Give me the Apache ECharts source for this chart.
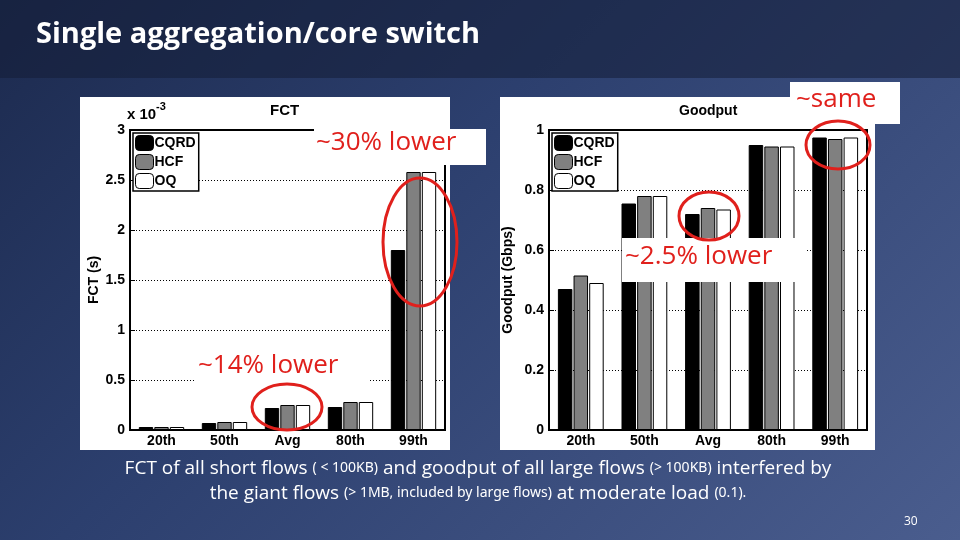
<!DOCTYPE html>
<html><head><meta charset="utf-8">
<script src="https://cdn.jsdelivr.net/npm/echarts@6/dist/echarts.min.js"></script>
<style>
html,body{margin:0;padding:0;}
#c{width:960px;height:540px;background:linear-gradient(135deg,#1c2a4e 0%,#2c3f6e 40%,#4a5d8e 100%);}
</style></head><body><div id="c"></div>
<script>
const categories = ['20th','50th','Avg','80th','99th'];
const seriesNames = ['CQRD','HCF','OQ'];
const fctCQRD = [0.03,0.07,0.22,0.23,1.80];
const fctHCF  = [0.03,0.08,0.25,0.28,2.58];
const fctOQ   = [0.03,0.08,0.25,0.28,2.58];
const gpCQRD = [0.47,0.755,0.72,0.95,0.975];
const gpHCF  = [0.515,0.78,0.74,0.945,0.97];
const gpOQ   = [0.49,0.78,0.735,0.945,0.975];
const fctTicks = [0,0.5,1,1.5,2,2.5,3];
const gpTicks = [0,0.2,0.4,0.6,0.8,1];

const colors = ['#000000','#808080','#ffffff'];
const chart = echarts.init(document.getElementById('c'));
const F = 'Liberation Sans, Arial, sans-serif';
const axisLab = {color:'#000',fontWeight:'bold',fontFamily:F,fontSize:14};
function mkSeries(vals, idx, gi){
  return {type:'bar',name:seriesNames[idx],xAxisIndex:gi,yAxisIndex:gi,data:vals,
    barGap:'8%',barCategoryGap:'28%',
    itemStyle:{color:colors[idx],borderColor:'#000',borderWidth:1}};
}
const redTxt = {fill:'#e0201c',font:'26px "Open Sans", sans-serif'};
chart.setOption({
  animation:false,
  graphic:[
    {type:'rect',shape:{x:0,y:0,width:960,height:78},style:{fill:'rgba(20,30,55,0.55)'},z:0},
    {type:'text',left:36,top:20,style:{text:'Single aggregation/core switch',fill:'#fff',font:'bold 29px "Open Sans", sans-serif'}},
    {type:'rect',shape:{x:80,y:97,width:370,height:353},style:{fill:'#fff'},z:-1},
    {type:'rect',shape:{x:500,y:97,width:375,height:353},style:{fill:'#fff'},z:-1},
    {type:'text',x:127,y:107,style:{text:'x 10',fill:'#000',font:'bold 15px Liberation Sans'}},
    {type:'text',x:156,y:101,style:{text:'-3',fill:'#000',font:'bold 11px Liberation Sans'}},
    {type:'text',x:270,y:103,style:{text:'FCT',fill:'#000',font:'bold 15px Liberation Sans'}},
    {type:'text',x:679,y:104,style:{text:'Goodput',fill:'#000',font:'bold 14px Liberation Sans'}},
    {type:'rect',shape:{x:790,y:82,width:110,height:42},style:{fill:'#fff'},z:50},
    {type:'text',x:796,y:87,style:Object.assign({text:'~same'},redTxt),z:51},
    {type:'rect',shape:{x:314,y:129,width:172,height:36},style:{fill:'#fff'},z:50},
    {type:'text',x:316,y:130,style:Object.assign({text:'~30% lower'},redTxt),z:51},
    {type:'rect',shape:{x:196,y:352,width:172,height:34},style:{fill:'#fff'},z:50},
    {type:'text',x:198,y:353,style:Object.assign({text:'~14% lower'},redTxt),z:51},
    {type:'rect',shape:{x:622,y:238,width:183,height:44},style:{fill:'#fff'},z:50},
    {type:'text',x:625,y:244,style:Object.assign({text:'~2.5% lower'},redTxt),z:51},
    {type:'ellipse',shape:{cx:420,cy:242,rx:37,ry:64},style:{fill:'none',stroke:'#e0201c',lineWidth:3},z:52},
    {type:'ellipse',shape:{cx:287,cy:407,rx:35,ry:23},style:{fill:'none',stroke:'#e0201c',lineWidth:3},z:52},
    {type:'ellipse',shape:{cx:838,cy:145,rx:32,ry:24},style:{fill:'none',stroke:'#e0201c',lineWidth:3},z:52},
    {type:'ellipse',shape:{cx:709,cy:216,rx:30,ry:24},style:{fill:'none',stroke:'#e0201c',lineWidth:3},z:52},
    {type:'text',x:478,y:456,style:{align:'center',fill:'#fff',
      text:'{a|FCT of all short flows }{b|( < 100KB)}{a| and goodput of all large flows }{b|(> 100KB)}{a| interfered by}\n{a|the giant flows }{b|(> 1MB, included by large flows)}{a| at moderate load }{b|(0.1).}',
      rich:{a:{fontSize:19,fontFamily:'Open Sans',color:'#fff',lineHeight:25},b:{fontSize:14,fontFamily:'Noto Sans',color:'#fff',lineHeight:25}}}},
    {type:'text',x:904,y:516,style:{text:'30',fill:'#fff',font:'12px "Open Sans"'}}
  ],
  legend:[
    {data:seriesNames,left:133,top:133,orient:'vertical',itemWidth:18,itemHeight:15,itemGap:3,
     backgroundColor:'#fff',borderColor:'#000',borderWidth:1.5,padding:[2,3,2,2],
     textStyle:{color:'#000',fontWeight:'bold',fontFamily:F,fontSize:14,padding:[0,0,0,-4]},
     itemStyle:{borderColor:'#000',borderWidth:1}},
    {data:seriesNames,left:552,top:133,orient:'vertical',itemWidth:18,itemHeight:15,itemGap:3,
     backgroundColor:'#fff',borderColor:'#000',borderWidth:1.5,padding:[2,3,2,2],
     textStyle:{color:'#000',fontWeight:'bold',fontFamily:F,fontSize:14,padding:[0,0,0,-4]},
     itemStyle:{borderColor:'#000',borderWidth:1}}
  ],
  grid:[
    {left:130,top:130,width:315,height:300,show:true,borderColor:'#000',borderWidth:2,backgroundColor:'#fff'},
    {left:549,top:130,width:318,height:300,show:true,borderColor:'#000',borderWidth:2,backgroundColor:'#fff'}
  ],
  xAxis:[0,1].map(g=>({type:'category',gridIndex:g,data:categories,
    axisLine:{lineStyle:{color:'#000',width:2}},axisTick:{show:false},axisLabel:Object.assign({margin:4},axisLab)})),
  yAxis:[
    {type:'value',gridIndex:0,min:0,max:3,interval:0.5,name:'FCT (s)',nameLocation:'middle',nameGap:28,
     nameTextStyle:{color:'#000',fontWeight:'bold',fontFamily:F,fontSize:14},
     axisLabel:Object.assign({margin:5,formatter:v=>fctTicks.includes(v)?String(v):''},axisLab),
     axisLine:{show:true,lineStyle:{color:'#000',width:2}},axisTick:{show:true,inside:true,lineStyle:{color:'#000'}},
     splitLine:{lineStyle:{color:'#000',type:[1,2]}}},
    {type:'value',gridIndex:1,min:0,max:1,interval:0.2,name:'Goodput (Gbps)',nameLocation:'middle',nameGap:34,
     nameTextStyle:{color:'#000',fontWeight:'bold',fontFamily:F,fontSize:14},
     axisLabel:Object.assign({margin:5,formatter:v=>String(+v.toFixed(1))},axisLab),
     axisLine:{show:true,lineStyle:{color:'#000',width:2}},axisTick:{show:true,inside:true,lineStyle:{color:'#000'}},
     splitLine:{lineStyle:{color:'#000',type:[1,2]}}}
  ],
  series:[
    mkSeries(fctCQRD,0,0),mkSeries(fctHCF,1,0),mkSeries(fctOQ,2,0),
    mkSeries(gpCQRD,0,1),mkSeries(gpHCF,1,1),mkSeries(gpOQ,2,1)
  ]
});
</script></body></html>
